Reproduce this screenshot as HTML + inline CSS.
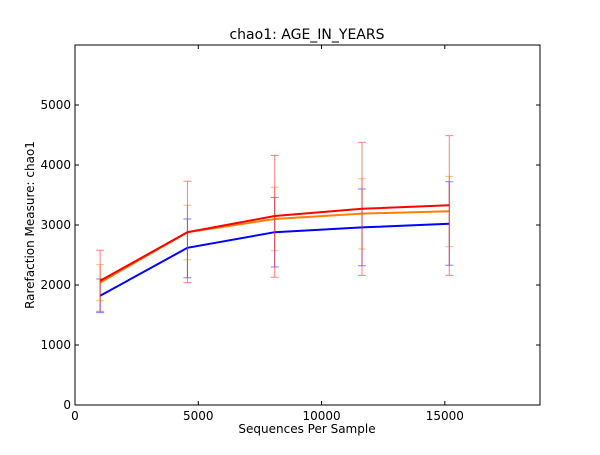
<!DOCTYPE html>
<html><head><meta charset="utf-8"><style>
body{margin:0;background:#fff;}
svg text{font-family:"DejaVu Sans","Liberation Sans",sans-serif;}
</style></head><body>
<svg id="chart" width="600" height="450" xmlns="http://www.w3.org/2000/svg">
<rect x="0" y="0" width="600" height="450" fill="#fff"/>
<text x="307" y="39" font-size="14" text-anchor="middle">chao1: AGE_IN_YEARS</text>
<text x="307" y="433" font-size="12" text-anchor="middle">Sequences Per Sample</text>
<text x="34" y="225" font-size="12" text-anchor="middle" transform="rotate(-90 34 225)">Rarefaction Measure: chao1</text>
<g id="ticks"></g>
<g id="series"></g>
<rect x="75" y="45" width="465" height="360" fill="none" stroke="#000" stroke-width="1"/>
</svg>
<script>
const xs = [1020, 4560, 8100, 11640, 15180];
const xTicks = [0, 5000, 10000, 15000];
const yTicks = [0, 1000, 2000, 3000, 4000, 5000];
const blueMean = [1820, 2620, 2880, 2960, 3020];
const blueLo = [1540, 2120, 2300, 2320, 2330];
const blueHi = [2100, 3100, 3460, 3600, 3720];
const orangeMean = [2040, 2880, 3100, 3190, 3230];
const orangeLo = [1740, 2420, 2570, 2600, 2640];
const orangeHi = [2340, 3330, 3630, 3770, 3810];
const redMean = [2070, 2880, 3150, 3270, 3330];
const redLo = [1560, 2040, 2130, 2160, 2160];
const redHi = [2580, 3730, 4160, 4380, 4490];

const X0=75,X1=540,Y0=405,Y1=45,XMAX=18860,YMAX=6000;
const sx=v=>X0+v/XMAX*(X1-X0);
const sy=v=>Y0-v/YMAX*(Y0-Y1);
const NS="http://www.w3.org/2000/svg";
function mk(t,a,p){const e=document.createElementNS(NS,t);for(const k in a)e.setAttribute(k,a[k]);p.appendChild(e);return e;}
const tg=document.getElementById('ticks');
xTicks.forEach(v=>{
  const x=sx(v);
  const l=mk('line',{x1:x,x2:x,y1:Y0,y2:Y0-4,stroke:'#000'},tg);
  
  
  const l2=mk('line',{x1:x,x2:x,y1:Y1,y2:Y1+4,stroke:'#000'},tg);
  
  
  const t=mk('text',{x:x,y:Y0+15,'font-size':12,'text-anchor':'middle'},tg);
  t.textContent=v;
  
  
});
yTicks.forEach(v=>{
  const y=sy(v);
  const l=mk('line',{x1:X0,x2:X0+4,y1:y,y2:y,stroke:'#000'},tg);
  
  
  const l2=mk('line',{x1:X1,x2:X1-4,y1:y,y2:y,stroke:'#000'},tg);
  
  
  const t=mk('text',{x:X0-4,y:y+4,'font-size':12,'text-anchor':'end'},tg);
  t.textContent=v;
  
  
});
const sg=document.getElementById('series');
const series=[
  {name:'blue',c:'#0000ff',m:blueMean,lo:blueLo,hi:blueHi},
  {name:'orange',c:'#ff7f00',m:orangeMean,lo:orangeLo,hi:orangeHi},
  {name:'red',c:'#ff0000',m:redMean,lo:redLo,hi:redHi}
];
series.forEach(s=>{
  const g=mk('g',{},sg);
  
  
  xs.forEach((xv,i)=>{
    const x=sx(xv);
    const e=mk('path',{d:`M${x},${sy(s.lo[i])}V${sy(s.hi[i])}M${x-4},${sy(s.lo[i])}h8M${x-4},${sy(s.hi[i])}h8`,stroke:s.c,'stroke-opacity':0.5,'stroke-width':1,fill:'none'},g);
    
    
  });
  const p=mk('polyline',{points:xs.map((xv,i)=>sx(xv)+','+sy(s.m[i])).join(' '),stroke:s.c,'stroke-width':2,fill:'none'},g);
  
  
});
</script>
</body></html>
